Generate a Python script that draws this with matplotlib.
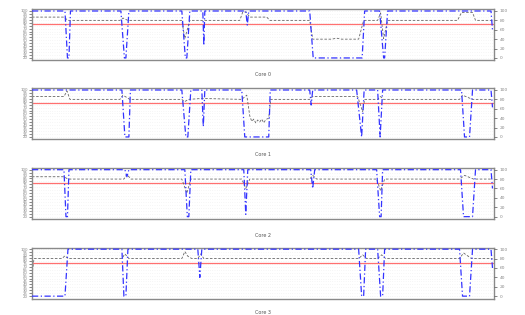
import matplotlib
matplotlib.use("Agg")
import matplotlib.pyplot as plt
import numpy as np

core_labels = ["Core 0", "Core 1", "Core 2", "Core 3"]
threshold = 71.5

# ---- Core 0 ----
util0_t = [0, 33, 35.5, 37, 38.5, 89, 92.5, 94, 97, 150, 153.5, 155, 158, 171, 172, 173,
           214, 215.5, 217, 278, 281.5, 330.5, 333, 348, 352, 353, 356, 459.5, 461]
util0_v = [100, 100, 0, 0, 100, 100, 0, 0, 100, 100, 0, 0, 100, 100, 27, 100,
           100, 70, 100, 100, 0, 0, 100, 100, 0, 0, 100, 100, 59]
temp0_t = [0, 32, 36, 88, 91, 96, 150, 153, 158, 208, 211, 214, 218, 235, 238, 278, 281,
           300, 305, 310, 327, 332, 346, 349, 352, 356, 426, 430, 441, 444, 461]
temp0_v = [87, 87, 80, 80, 85, 80, 80, 41.5, 80, 80, 98, 98, 87, 87, 80, 80, 40,
           40, 42, 40, 40, 80, 80, 96, 41, 80, 80, 97, 97, 80, 80]

# ---- Core 1 ----
util1_t = [0, 90, 93, 97, 98.5, 150, 154, 156, 159, 170, 171.5, 173, 210, 213, 237, 238.5,
           278, 279.5, 281, 325, 330, 332.5, 346, 348.5, 351, 430, 433, 438, 441, 459.5, 461]
util1_v = [100, 100, 0, 0, 100, 100, 0, 0, 100, 100, 22, 100, 100, 0, 0, 100,
           100, 68, 100, 100, 0, 100, 100, 0, 100, 100, 0, 0, 100, 100, 63]
temp1_t = [0, 32, 35, 38, 88, 91, 98, 150, 152.5, 157, 170, 210, 215, 218, 220, 222, 224,
           226, 228, 230, 232, 234, 237, 239, 278, 281, 326, 331, 333, 346, 349, 352,
           428, 431, 441, 461]
temp1_v = [86, 86, 98, 80, 80, 89, 80, 80, 75, 80, 82, 80, 89, 45, 33, 38, 30,
           36, 32, 38, 30, 37, 40, 80, 80, 86, 86, 54, 80, 80, 86, 80,
           80, 89, 80, 80]

# ---- Core 2 ----
util2_t = [0, 32, 34, 35.5, 37, 93, 95, 97, 153, 155.5, 157, 159, 212, 214, 216,
           279, 281, 283, 345, 348, 349.5, 351, 429, 432, 441, 444, 459.5, 461]
util2_v = [100, 100, 0, 0, 100, 100, 85, 100, 100, 0, 0, 100, 100, 5, 100,
           100, 60, 100, 100, 0, 0, 100, 100, 0, 0, 100, 100, 60]
temp2_t = [0, 32, 36, 92, 95, 99, 150, 155, 159, 210, 214, 218, 278, 281, 285, 345, 349,
           353, 428, 433, 442, 461]
temp2_v = [85, 85, 80, 80, 90, 80, 80, 50, 80, 80, 60, 80, 80, 88, 80, 80, 55,
           80, 80, 88, 80, 80]

# ---- Core 3 ----
util3_t = [0, 33, 36, 37, 90, 92, 94, 96, 166, 168, 170, 327, 330, 332, 334, 346, 349,
           351, 353, 428, 431, 438, 441, 459.5, 461]
util3_v = [0, 0, 100, 100, 100, 0, 0, 100, 100, 40, 100, 100, 0, 0, 100, 100, 0,
           0, 100, 100, 0, 0, 100, 100, 60]
temp3_t = [0, 2, 30, 33, 36, 90, 93, 97, 150, 153, 156, 160, 166, 169, 172, 327, 331,
           335, 346, 350, 354, 428, 432, 440, 461]
temp3_v = [45, 80, 80, 86, 80, 80, 90, 80, 80, 95, 85, 80, 80, 90, 80, 80, 88,
           80, 80, 88, 80, 80, 92, 80, 80]

util_t = [util0_t, util1_t, util2_t, util3_t]
util_v = [util0_v, util1_v, util2_v, util3_v]
temp_t = [temp0_t, temp1_t, temp2_t, temp3_t]
temp_v = [temp0_v, temp1_v, temp2_v, temp3_v]

left_ticks = np.linspace(0, 100, 17)
left_labels = ["%d" % v for v in np.linspace(20, 100, 17)]
right_ticks = [0, 20, 40, 60, 80, 100]

fig = plt.figure(figsize=(5.25, 3.15), dpi=100)
tops = [9.3, 88.3, 168.0, 247.5]
height = 51.0
label_y = [75, 155, 235.5, 313]
W, H = 525.0, 315.0
x0, x1 = 32.0, 494.0
frame_col = "#8a8a8a"

for i in range(4):
    bottom = 1 - (tops[i] + height) / H
    ax = fig.add_axes([x0 / W, bottom, (x1 - x0) / W, height / H])
    ax.set_xlim(0, 462.5)
    ax.set_ylim(-5, 103.6)
    for y in left_ticks:
        ax.axhline(y, color="#e2e2e2", lw=0.4, ls=(0, (1, 3)), zorder=0)
    ax.axhline(threshold, color="#ff7070", lw=0.9, zorder=1)
    ax.plot(temp_t[i], temp_v[i], color="#666666", lw=0.6, ls=(0, (3, 2)), zorder=2)
    ax.plot(util_t[i], util_v[i], color="#3333ff", lw=0.9, ls=(0, (5, 2, 1, 2)), zorder=3)
    ax.set_xticks([])
    ax.set_yticks(left_ticks)
    ax.set_yticklabels(left_labels, fontsize=2.8, color="#888888")
    ax.tick_params(axis="y", length=2, width=0.5, color="#555555", pad=1)
    for s in ax.spines.values():
        s.set_color(frame_col)
        s.set_linewidth(1.0)
    ax2 = ax.twinx()
    ax2.set_ylim(-5, 103.6)
    ax2.set_yticks(right_ticks)
    ax2.set_yticklabels([str(v) for v in right_ticks], fontsize=3.2, color="#888888")
    ax2.tick_params(axis="y", length=2, width=0.5, color="#555555", pad=2)
    for s in ax2.spines.values():
        s.set_visible(False)
    fig.text((x0 + x1) / 2 / W, 1 - label_y[i] / H, core_labels[i], ha="center",
             va="center", fontsize=3.5, color="#555555")

fig.savefig("out.png", dpi=100)
